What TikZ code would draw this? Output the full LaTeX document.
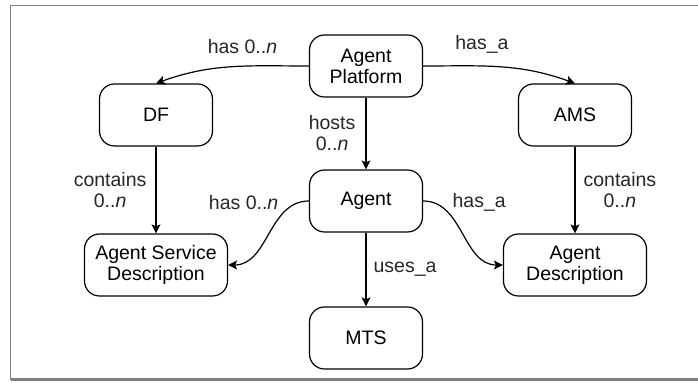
\documentclass[tikz,border=0pt]{standalone}
\usepackage{fontspec}
\setmainfont{Liberation Sans}
\usetikzlibrary{arrows.meta}

\begin{document}
\begin{tikzpicture}[
                > = {Stealth[length=4.5pt, width=4.5pt, inset=1pt]}, % arrow head style
                x = 0.5pt, y = -0.5pt, % one unit per pixel, y runs down
                auto, node distance = 67.5pt, % distance between nodes
                semithick, % line style
                font = \fontsize{9.75}{10.5}\selectfont
            ]

            \tikzstyle{entity}=[draw = black, rounded corners = 7.5pt,
            align = center, minimum width = 56.5pt, minimum height = 31pt,
            inner sep = 1pt]
            \tikzstyle{wide}=[minimum width = 71.5pt]
            \tikzstyle{rel}=[inner sep = 2pt, align = center, text = black!85]

            % page and frame
            \useasboundingbox (0,0) rectangle (698,383);
            \draw[black!50, line width = 0.8pt] (702,5.5) -| (10.5,380);
            \draw[black!50, line width = 1.5pt] (10.5,380) -- (702,380);

            \node[entity] (ap) at (366,66) {Agent\\Platform};
            \node[entity] (df) at (156,115) {DF};
            \node[entity] (ams) at (575,115) {AMS};
            \node[entity] (agent) [below of=ap] {Agent};
            \node[entity] (mts) [below of=agent, node distance = 68.5pt] {MTS};
            \node[entity, wide] (asd) [below of=df, node distance = 75pt]
            {Agent Service\\Description};
            \node[entity, wide] (ad) [below of=ams, node distance = 75pt]
            {Agent\\Description};

            \draw[->] (ap.west) to[out=180, in=20] node[rel, pos=0.42,
            above=4pt] {has 0..\textit{n}} (df.north);
            \draw[->] (ap.east) to[out=0, in=160] node[rel, pos=0.37,
            above=4pt] {has\_a} (ams.north);
            \draw[->] (ap) -- node[rel, left=3pt] {hosts\\0..\textit{n}} (agent);
            \draw[->] (df) -- node[rel, left=2.5pt] {contains\\0..\textit{n}} (asd);
            \draw[->] (ams) -- node[rel, right=2pt] {contains\\0..\textit{n}} (ad);
            \draw[->] (agent.west) to[out=180, in=0] node[rel, pos=0.1,
            left=7.5pt] {has 0..\textit{n}} (asd.east);
            \draw[->] (agent.east) to[out=0, in=180] node[rel, pos=0.1,
            right=7pt] {has\_a} (ad.west);
            \draw[->] (agent) -- node[rel, right=1.5pt] {uses\_a} (mts);

        \end{tikzpicture}
\end{document}
